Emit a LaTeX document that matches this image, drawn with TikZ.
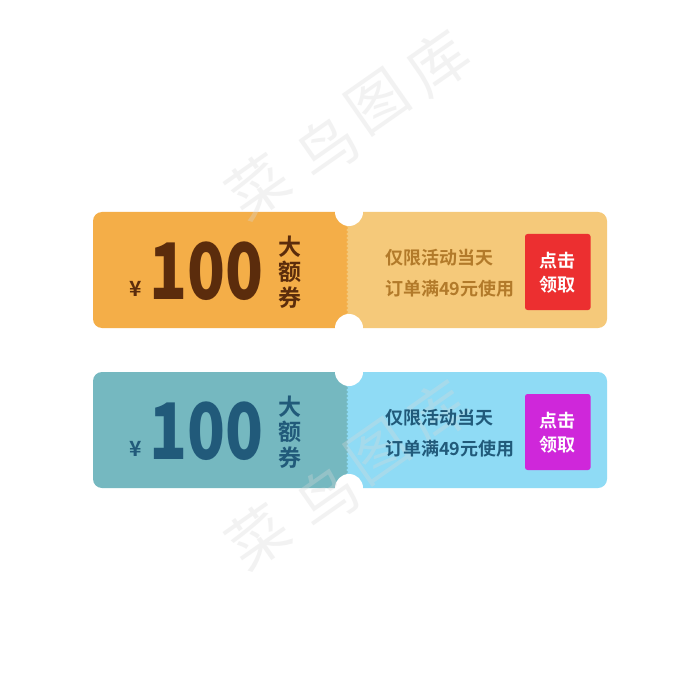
\documentclass[tikz,border=0pt]{standalone}
\usepackage{fontspec}
\setmainfont{Noto Sans CJK SC}
\newfontfamily\cjkb{Noto Sans CJK SC}[BoldFont={Noto Sans CJK SC Bold}]
\newfontfamily\cjkk{Noto Sans CJK SC Black}
\definecolor{oL}{HTML}{F4AE48}\definecolor{oR}{HTML}{F5C97A}\definecolor{oD}{HTML}{5B2C0C}\definecolor{oT}{HTML}{B27A2A}
\definecolor{bL}{HTML}{75B8C0}\definecolor{bR}{HTML}{8FDBF5}\definecolor{bD}{HTML}{215A7A}
\definecolor{redbtn}{HTML}{EC2F30}\definecolor{purbtn}{HTML}{CF27DA}
\definecolor{wm}{HTML}{D8D8D8}
\tikzset{
  amount/.style={font=\cjkk\fontsize{78}{78}\selectfont,xscale=.80,transform shape,inner sep=0},
  yen/.style={font=\cjkb\bfseries\fontsize{21}{21}\selectfont,inner sep=0},
  kind/.style={font=\cjkb\bfseries\fontsize{23}{25.5}\selectfont,inner sep=0,align=center},
  info/.style={font=\cjkb\bfseries\fontsize{18}{18}\selectfont,inner sep=0,anchor=west},
  btntext/.style={font=\cjkb\bfseries\fontsize{18}{24}\selectfont,text=white,inner sep=0,align=center},
  wmark/.style={font=\fontsize{60}{60}\selectfont,text=wm,rotate=35,inner sep=0,opacity=.32}
}
\newcommand{\ticketbody}[3]{%
 \begin{scope}[yshift=-#1pt]
  \fill[#3] (346,0) {[rounded corners=9pt] -- (607,0) -- (607,116)} -- (346,116) -- cycle;
  \fill[#2] (346,0) {[rounded corners=9pt] -- (93,0) -- (93,116)} -- (346,116) -- cycle;
  \foreach \k in {0,...,21}{\fill[#2] (346,14+\k*4) -- (348.2,16+\k*4) -- (346,18+\k*4) -- cycle;}
  \fill[white] (349,0) circle[radius=14];
  \fill[white] (349,116) circle[radius=14];
 \end{scope}}
\newcommand{\tickettext}[4]{%
 \begin{scope}[yshift=-#1pt]
  \fill[#4,rounded corners=2.5pt] (525,22) rectangle (590.5,98);
  \node[yen,text=#2] (y#1) at (136,77) {¥};
  \node[amount,text=#2] (a#1) at (206,59) {100};
  \node[kind,text=#2] (k#1) at (289.5,60) {大\\额\\券};
  \node[info,text=#3] (i#1) at (385,45.5) {仅限活动当天};
  \node[info,text=#3] (j#1) at (385,76.5) {订单满49元使用};
  \node[btntext] (b#1) at (557.5,61) {点击\\领取};
 \end{scope}}
\newcommand{\watermark}[1]{%
 \begin{scope}[yshift=-#1pt]
  \node[wmark] (c#1) at (258,187) {菜};
  \node[wmark] (n#1) at (327,147) {鸟};
  \node[wmark] (t#1) at (378,102) {图};
  \node[wmark] (l#1) at (438,63) {库};
 \end{scope}}
\begin{document}
\begin{tikzpicture}[x=1pt,y=-1pt]
\useasboundingbox (0,0) rectangle (700,700);
\fill[white] (0,0) rectangle (700,700);
\ticketbody{212}{oL}{oR}
\ticketbody{372}{bL}{bR}
\watermark{0}
\watermark{350}
\tickettext{212}{oD}{oT}{redbtn}
\tickettext{372}{bD}{bD}{purbtn}
\end{tikzpicture}
\end{document}
